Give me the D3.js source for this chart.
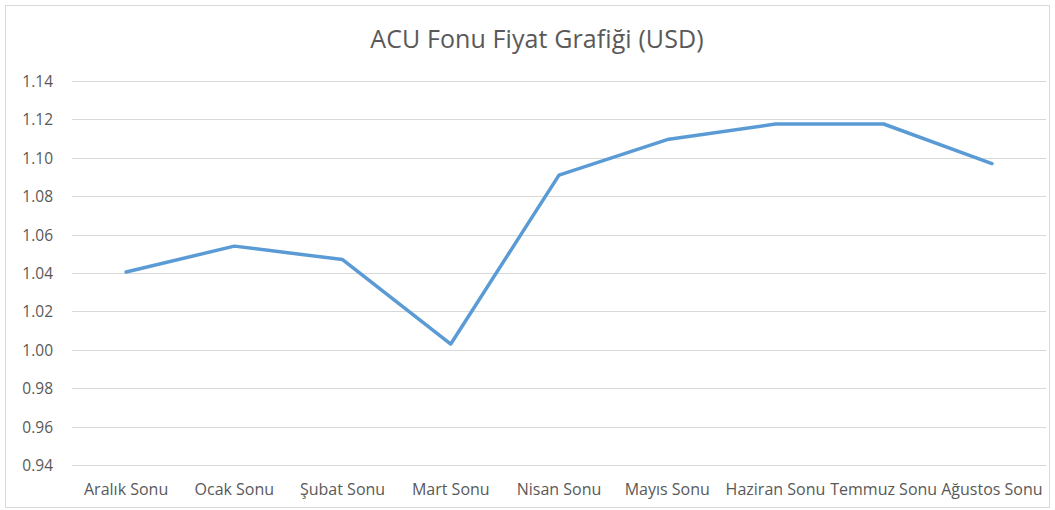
<!DOCTYPE html>
<html>
<head>
<meta charset="utf-8">
<script src="https://cdn.jsdelivr.net/npm/d3@7"></script>
<style>
  body { margin: 0; background: #fff; }
  .tick text { font-family: "Open Sans", sans-serif; fill: #595959; }
</style>
</head>
<body>
<div class="chart"></div>
<script>
var width = 1055, height = 510;

var months = ["Aralık Sonu", "Ocak Sonu", "Şubat Sonu", "Mart Sonu", "Nisan Sonu",
  "Mayıs Sonu", "Haziran Sonu", "Temmuz Sonu", "Ağustos Sonu"];
var prices = [1.0405, 1.054, 1.047, 1.003, 1.091, 1.1095, 1.1176, 1.1176, 1.097];
var yTicks = [0.94, 0.96, 0.98, 1.00, 1.02, 1.04, 1.06, 1.08, 1.10, 1.12, 1.14];

var margin = {left: 72, right: 9, top: 81, bottom: 45};

var svg = d3.select(".chart").append("svg")
  .attr("width", width)
  .attr("height", height);

// chart border
svg.append("rect")
  .attr("x", 5.5).attr("y", 5.5)
  .attr("width", width - 11).attr("height", height - 8)
  .attr("fill", "none")
  .attr("stroke", "#d9d9d9");

var x = d3.scaleBand()
  .domain(months)
  .range([margin.left, width - margin.right]);

var y = d3.scaleLinear()
  .domain([0.94, 1.14])
  .range([height - margin.bottom, margin.top]);

// gridlines
svg.append("g")
  .selectAll("line")
  .data(yTicks)
  .join("line")
  .attr("x1", margin.left)
  .attr("x2", width - margin.right)
  .attr("y1", d => Math.round(y(d)) + 0.5)
  .attr("y2", d => Math.round(y(d)) + 0.5)
  .attr("stroke", "#d9d9d9")
  .attr("stroke-width", 1);

// y axis labels
var yAxis = svg.append("g")
  .attr("transform", "translate(53,0)")
  .call(d3.axisLeft(y).tickValues(yTicks).tickFormat(d3.format(".2f")).tickSize(0).tickPadding(0));
yAxis.select(".domain").remove();
yAxis.selectAll("text").attr("font-size", 15.5).attr("dy", "0.36em");

// x axis labels
var xAxis = svg.append("g")
  .attr("transform", "translate(0," + (height - margin.bottom) + ")")
  .call(d3.axisBottom(x).tickSize(0).tickPadding(19));
xAxis.select(".domain").remove();
xAxis.selectAll("text").attr("font-size", 16);

// price line
var line = d3.line()
  .x((d, i) => x(months[i]) + x.bandwidth() / 2)
  .y(d => y(d));

svg.append("path")
  .datum(prices)
  .attr("fill", "none")
  .attr("stroke", "#5b9bd5")
  .attr("stroke-width", 3.5)
  .attr("stroke-linejoin", "round")
  .attr("stroke-linecap", "round")
  .attr("d", line);

// title
svg.append("text")
  .attr("x", 537)
  .attr("y", 48)
  .attr("text-anchor", "middle")
  .attr("font-family", "'Open Sans', sans-serif")
  .attr("font-size", 25)
  .attr("letter-spacing", "0.1px")
  .attr("fill", "#595959")
  .text("ACU Fonu Fiyat Grafiği (USD)");
</script>
</body>
</html>
